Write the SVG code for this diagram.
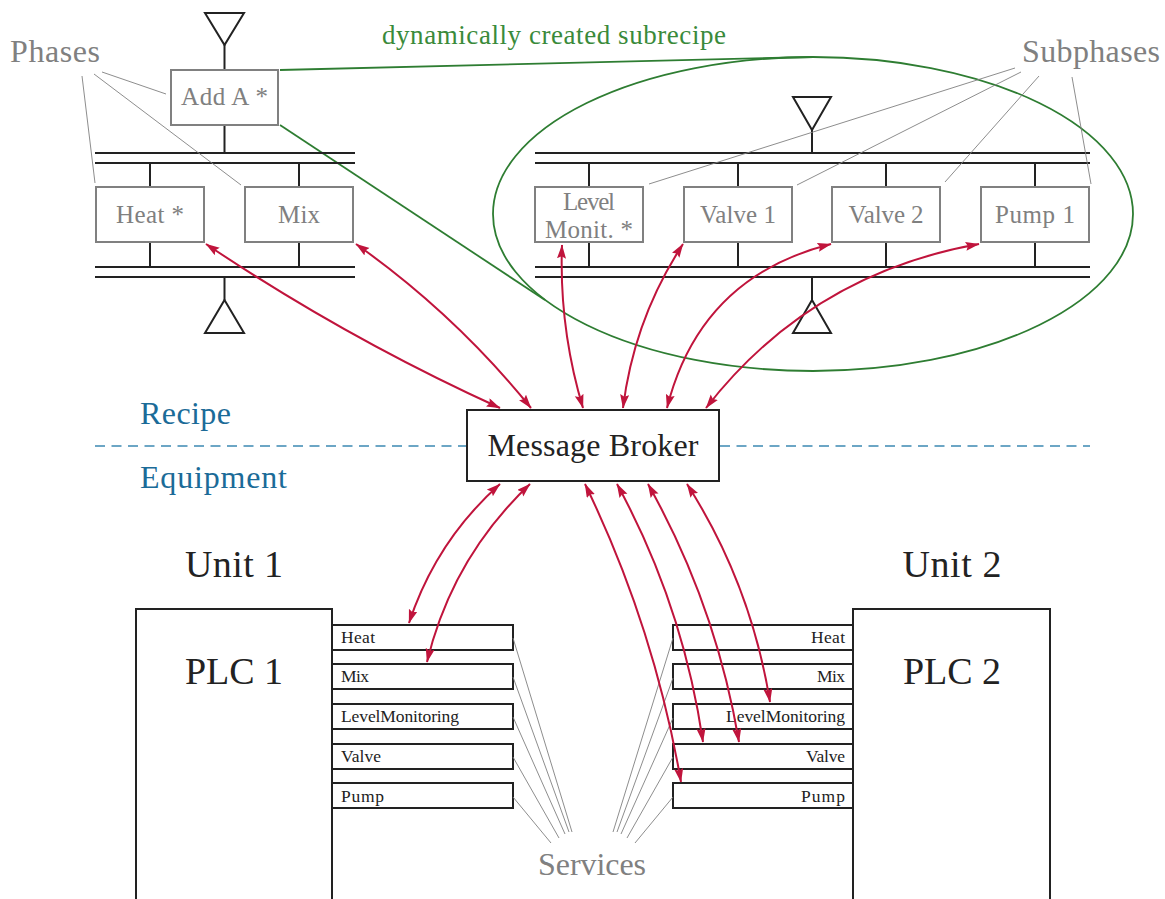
<svg xmlns="http://www.w3.org/2000/svg" width="1165" height="899" viewBox="0 0 1165 899" font-family="'Liberation Serif', 'Times New Roman', 'DejaVu Serif', serif">
  <defs>
    <style>
      text { font-family: 'Liberation Serif', 'Times New Roman', 'DejaVu Serif', serif; }
      .bus { stroke: #222; stroke-width: 2; fill: none; }
      .gbox { fill: #fff; stroke: #808080; stroke-width: 2; }
      .gtxt { fill: #808080; font-size: 25px; text-anchor: middle; }
      .lbl { fill: #808080; font-size: 32px; }
      .lead { stroke: #808080; stroke-width: 0.9; fill: none; }
      .tri { fill: #fff; stroke: #222; stroke-width: 2; stroke-linejoin: miter; }
      .sbox { fill: #fff; stroke: #222; stroke-width: 2; }
      .stxt { fill: #222; font-size: 17.5px; }
      .big { fill: #222; font-size: 38px; text-anchor: middle; }
      .blue { fill: #1b6b98; font-size: 32px; }
      .green { stroke: #2e7d32; stroke-width: 1.8; fill: none; }
      .msg { stroke: #c0143c; stroke-width: 2; fill: none; marker-start: url(#tip); marker-end: url(#tip); }
    </style>
    <marker id="tip" markerUnits="userSpaceOnUse" markerWidth="15" markerHeight="10" refX="13.5" refY="4.5" orient="auto-start-reverse">
      <path d="M0,0 L14,4.5 L0,9 L2.2,4.5 Z" fill="#c0143c"/>
    </marker>
  </defs>

  <!-- subrecipe outline -->
  <g id="subrecipe">
    <ellipse class="green" cx="813" cy="214" rx="320" ry="157"/>
    <line class="green" x1="280" y1="70" x2="813" y2="57"/>
    <line class="green" x1="280" y1="125" x2="545" y2="300"/>
    <text x="382" y="44" font-size="27" fill="#3a8a3a" textLength="344">dynamically created subrecipe</text>
  </g>

  <!-- recipe structure: phases -->
  <g id="recipe-left">
    <polygon class="tri" points="205,13 244,13 224.5,45"/>
    <line class="bus" x1="224.5" y1="45" x2="224.5" y2="70"/>
    <line class="bus" x1="224.5" y1="125" x2="224.5" y2="153"/>
    <line class="bus" x1="95" y1="153" x2="355" y2="153"/>
    <line class="bus" x1="95" y1="163" x2="355" y2="163"/>
    <line class="bus" x1="150" y1="163" x2="150" y2="187"/>
    <line class="bus" x1="299" y1="163" x2="299" y2="187"/>
    <line class="bus" x1="150" y1="242" x2="150" y2="267"/>
    <line class="bus" x1="299" y1="242" x2="299" y2="267"/>
    <line class="bus" x1="95" y1="267" x2="355" y2="267"/>
    <line class="bus" x1="95" y1="277" x2="355" y2="277"/>
    <line class="bus" x1="224.5" y1="277" x2="224.5" y2="300"/>
    <polygon class="tri" points="224.5,300 244,333 205,333"/>
  </g>
  <g id="phase-add-a">
    <rect class="gbox" x="171" y="70" width="107" height="55"/>
    <text class="gtxt" x="224.5" y="105" textLength="87">Add A *</text>
  </g>
  <g id="phase-heat">
    <rect class="gbox" x="96" y="187" width="108" height="55"/>
    <text class="gtxt" x="150" y="223" textLength="68">Heat *</text>
  </g>
  <g id="phase-mix">
    <rect class="gbox" x="245" y="187" width="108" height="55"/>
    <text class="gtxt" x="299" y="223" textLength="42">Mix</text>
  </g>

  <!-- recipe structure: subphases -->
  <g id="recipe-right">
    <polygon class="tri" points="793,97 831,97 812,130"/>
    <line class="bus" x1="812" y1="130" x2="812" y2="153"/>
    <line class="bus" x1="535" y1="153" x2="1090" y2="153"/>
    <line class="bus" x1="535" y1="163" x2="1090" y2="163"/>
    <line class="bus" x1="589" y1="163" x2="589" y2="187"/>
    <line class="bus" x1="738" y1="163" x2="738" y2="187"/>
    <line class="bus" x1="886" y1="163" x2="886" y2="187"/>
    <line class="bus" x1="1035" y1="163" x2="1035" y2="187"/>
    <line class="bus" x1="589" y1="242" x2="589" y2="267"/>
    <line class="bus" x1="738" y1="242" x2="738" y2="267"/>
    <line class="bus" x1="886" y1="242" x2="886" y2="267"/>
    <line class="bus" x1="1035" y1="242" x2="1035" y2="267"/>
    <line class="bus" x1="535" y1="267" x2="1090" y2="267"/>
    <line class="bus" x1="535" y1="277" x2="1090" y2="277"/>
    <line class="bus" x1="812" y1="277" x2="812" y2="300"/>
    <polygon class="tri" points="812,300 831,333 793,333"/>
  </g>
  <g id="sub-level">
    <rect class="gbox" x="535" y="187" width="108" height="55"/>
    <text class="gtxt" x="589" y="210" textLength="52">Level</text>
    <text class="gtxt" x="589" y="238" textLength="88">Monit. *</text>
  </g>
  <g id="sub-valve1">
    <rect class="gbox" x="684" y="187" width="108" height="55"/>
    <text class="gtxt" x="738" y="223" textLength="76">Valve 1</text>
  </g>
  <g id="sub-valve2">
    <rect class="gbox" x="832" y="187" width="108" height="55"/>
    <text class="gtxt" x="886" y="223" textLength="75">Valve 2</text>
  </g>
  <g id="sub-pump1">
    <rect class="gbox" x="981" y="187" width="108" height="55"/>
    <text class="gtxt" x="1035" y="223" textLength="80">Pump 1</text>
  </g>

  <!-- annotations -->
  <g id="label-phases">
    <text class="lbl" x="10" y="62" textLength="90">Phases</text>
    <line class="lead" x1="102" y1="72" x2="166" y2="94"/>
    <line class="lead" x1="94" y1="74" x2="241" y2="185"/>
    <line class="lead" x1="82" y1="76" x2="95" y2="183"/>
  </g>
  <g id="label-subphases">
    <text class="lbl" x="1022" y="62" textLength="138">Subphases</text>
    <line class="lead" x1="1015" y1="68" x2="649" y2="184"/>
    <line class="lead" x1="1021" y1="72" x2="797" y2="185"/>
    <line class="lead" x1="1039" y1="76" x2="945" y2="182"/>
    <line class="lead" x1="1072" y1="77" x2="1091" y2="184"/>
  </g>

  <!-- layer separator -->
  <g id="layers">
    <line x1="95" y1="446" x2="466" y2="446" stroke="#3d89b3" stroke-width="1.5" stroke-dasharray="10,6.5"/>
    <line x1="720" y1="446" x2="1090" y2="446" stroke="#3d89b3" stroke-width="1.5" stroke-dasharray="10,6.5"/>
    <text class="blue" x="140" y="424" textLength="91">Recipe</text>
    <text class="blue" x="140" y="488" textLength="147">Equipment</text>
  </g>

  <g id="broker">
    <rect x="467" y="410" width="252" height="71" fill="#fff" stroke="#222" stroke-width="2"/>
    <text x="593" y="456" font-size="32" fill="#222" text-anchor="middle" textLength="211">Message Broker</text>
  </g>

  <!-- equipment: unit 1 -->
  <g id="unit1">
    <text class="big" x="234" y="577" textLength="98">Unit 1</text>
    <rect x="136" y="609" width="196" height="310" fill="#fff" stroke="#222" stroke-width="2"/>
    <text class="big" x="234" y="684" textLength="98">PLC 1</text>
  </g>
  <g id="unit1-services">
    <rect class="sbox" x="332" y="625" width="181" height="25"/>
    <text class="stxt" x="341" y="643" textLength="34">Heat</text>
    <rect class="sbox" x="332" y="664" width="181" height="25"/>
    <text class="stxt" x="341" y="682" textLength="28">Mix</text>
    <rect class="sbox" x="332" y="704" width="181" height="25"/>
    <text class="stxt" x="341" y="722" textLength="118">LevelMonitoring</text>
    <rect class="sbox" x="332" y="744" width="181" height="25"/>
    <text class="stxt" x="341" y="762" textLength="40">Valve</text>
    <rect class="sbox" x="332" y="783" width="181" height="25"/>
    <text class="stxt" x="341" y="802" textLength="43">Pump</text>
  </g>

  <!-- equipment: unit 2 -->
  <g id="unit2">
    <text class="big" x="952" y="577" textLength="99">Unit 2</text>
    <rect x="853" y="609" width="197" height="310" fill="#fff" stroke="#222" stroke-width="2"/>
    <text class="big" x="952" y="684" textLength="98">PLC 2</text>
  </g>
  <g id="unit2-services">
    <rect class="sbox" x="673" y="625" width="180" height="25"/>
    <text class="stxt" x="845" y="643" text-anchor="end" textLength="34">Heat</text>
    <rect class="sbox" x="673" y="664" width="180" height="25"/>
    <text class="stxt" x="845" y="682" text-anchor="end" textLength="28">Mix</text>
    <rect class="sbox" x="673" y="704" width="180" height="25"/>
    <text class="stxt" x="845" y="722" text-anchor="end" textLength="119">LevelMonitoring</text>
    <rect class="sbox" x="673" y="744" width="180" height="25"/>
    <text class="stxt" x="845" y="762" text-anchor="end" textLength="39">Valve</text>
    <rect class="sbox" x="673" y="783" width="180" height="25"/>
    <text class="stxt" x="845" y="802" text-anchor="end" textLength="44">Pump</text>
  </g>

  <g id="label-services">
    <text class="lbl" x="538" y="875" textLength="108">Services</text>
    <line class="lead" x1="513" y1="638" x2="572" y2="832"/>
    <line class="lead" x1="513" y1="677" x2="569" y2="832"/>
    <line class="lead" x1="513" y1="717" x2="565" y2="834"/>
    <line class="lead" x1="513" y1="757" x2="559" y2="838"/>
    <line class="lead" x1="513" y1="797" x2="551" y2="843"/>
    <line class="lead" x1="673" y1="638" x2="613" y2="832"/>
    <line class="lead" x1="673" y1="678" x2="617" y2="832"/>
    <line class="lead" x1="673" y1="718" x2="621" y2="834"/>
    <line class="lead" x1="673" y1="757" x2="627" y2="838"/>
    <line class="lead" x1="673" y1="797" x2="635" y2="843"/>
  </g>

  <!-- message flows (bidirectional) -->
  <g id="connectors">
    <path class="msg" d="M206,244 Q346,338 500,408"/>
    <path class="msg" d="M356,244 Q455,314 531,408"/>
    <path class="msg" d="M562,245 Q559,328 583,408"/>
    <path class="msg" d="M683,244 Q634,319 623,408"/>
    <path class="msg" d="M831,244 Q700,277 667,408"/>
    <path class="msg" d="M979,244 Q810,274 706,408"/>

    <path class="msg" d="M500,484 Q436,541 409,623"/>
    <path class="msg" d="M530,484 Q452,558 427,662"/>
    <path class="msg" d="M585,484 Q654,626 681,782"/>
    <path class="msg" d="M617,484 Q683,605 703,742"/>
    <path class="msg" d="M648,484 Q716,605 739,742"/>
    <path class="msg" d="M687,484 Q751,584 770,702"/>
  </g>
</svg>
